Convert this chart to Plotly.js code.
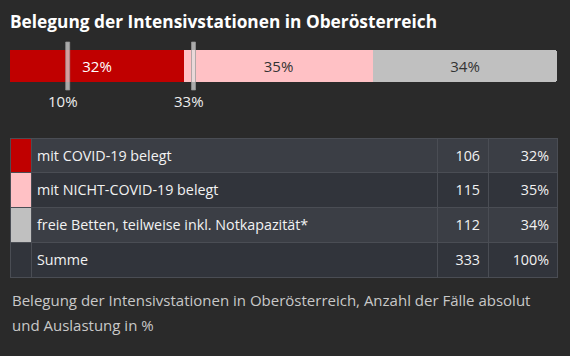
<!DOCTYPE html>
<html>
<head>
<meta charset="utf-8">
<script src="https://cdn.plot.ly/plotly-3.0.1.min.js"></script>
<style>
html,body{margin:0;padding:0;background:#2a2a2a;}
#chart{width:570px;height:356px;}
</style>
</head>
<body>
<div id="chart"></div>
<script>
// ---- data ----
var categories = ['mit COVID-19 belegt', 'mit NICHT-COVID-19 belegt', 'freie Betten, teilweise inkl. Notkapazität*'];
var counts = [106, 115, 112];
var colors = ['#c00000', '#ffc1c5', '#c0c0c0'];
var barTextColors = ['#ffffff', '#333333', '#333333'];
var markerValues = [10, 33];
var sumLabel = 'Summe';
var titleText = 'Belegung der Intensivstationen in Oberösterreich';
var footerLines = ['Belegung der Intensivstationen in Oberösterreich, Anzahl der Fälle absolut', 'und Auslastung in %'];

// ---- derived ----
var total = counts.reduce(function(a,b){return a+b;},0);
var pcts = counts.map(function(c){return c/total*100;});
var pctLabels = pcts.map(function(p){return Math.round(p)+'%';});

var FONT = '"Segoe UI", "Open Sans", "Noto Sans", sans-serif';
var W = 570, H = 356;
var X0 = 10, X1 = 557;
var HEADER_H = 20;
var TABLE_TOP = 138, TABLE_BOTTOM = 278, TEXT_DY = 4;

var traces = [];
categories.forEach(function(cat, i){
  traces.push({
    type:'bar', orientation:'h',
    x:[pcts[i]], y:[0], width:1,
    marker:{color:colors[i], line:{width:0}, cornerradius:3},
    text:[pctLabels[i]], textposition:'inside', insidetextanchor:'middle',
    textfont:{family:FONT, size:15, color:barTextColors[i]},
    hoverinfo:'skip', showlegend:false
  });
});

var rowA = '#3b3e45', rowB = '#31343b';
var rowFills = [rowA, rowB, rowA, rowB];
var nRows = categories.length + 1;
function blanks(){ var a=[]; for(var i=0;i<nRows;i++) a.push(''); return a; }

// table: cell fills and grid lines
traces.push({
  type:'table',
  domain:{x:[X0/W, X1/W], y:[1-TABLE_BOTTOM/H, 1-(TABLE_TOP-HEADER_H)/H]},
  columnwidth:[21, 406, 51, 69],
  header:{values:['','','',''], height:HEADER_H, fill:{color:'rgba(0,0,0,0)'}, line:{width:0, color:'rgba(0,0,0,0)'}},
  cells:{
    values:[blanks(), blanks(), blanks(), blanks()],
    height:34.75,
    font:{family:FONT, size:14, color:'#f2f2f2'},
    fill:{color:[colors.concat([rowB]), rowFills, rowFills, rowFills]},
    line:{color:'#4a4d54', width:1}
  }
});
// table: text, overlaid and vertically centred in the rows
traces.push({
  type:'table',
  domain:{x:[X0/W, X1/W], y:[1-(TABLE_BOTTOM+TEXT_DY)/H, 1-(TABLE_TOP-HEADER_H+TEXT_DY)/H]},
  columnwidth:[19, 408, 51, 69],
  header:{values:['','','',''], height:HEADER_H, fill:{color:'rgba(0,0,0,0)'}, line:{width:0, color:'rgba(0,0,0,0)'}},
  cells:{
    values:[
      blanks(),
      categories.concat([sumLabel]),
      counts.map(String).concat([String(total)]),
      pctLabels.concat(['100%'])
    ],
    align:['left','left','right','right'],
    height:34.75,
    font:{family:FONT, size:14.3, color:'#f2f2f2'},
    fill:{color:'rgba(0,0,0,0)'},
    line:{width:0, color:'rgba(0,0,0,0)'}
  }
});

var markerShapes = markerValues.map(function(v){
  return {type:'rect', xref:'x', yref:'y', xsizemode:'pixel', ysizemode:'pixel',
          xanchor:v, yanchor:0, x0:1, x1:5, y0:-24, y1:24,
          fillcolor:'rgba(225,225,225,0.7)', line:{color:'rgba(150,150,150,0.7)', width:1}, layer:'above'};
});
var markerAnns = markerValues.map(function(v){
  return {text:v+'%', xref:'x', yref:'paper', x:v, xshift:-2, y:1-101/H, xanchor:'center', yanchor:'middle', showarrow:false,
          font:{family:FONT, size:15, color:'#eeeeee'}};
});

var layout = {
  width:W, height:H,
  paper_bgcolor:'#2a2a2a', plot_bgcolor:'rgba(0,0,0,0)',
  margin:{l:0,r:0,t:0,b:0},
  barmode:'stack', bargap:0,
  showlegend:false,
  title:{text:'<b>'+titleText+'</b>', font:{family:FONT, size:17.3, color:'#ffffff'},
         x:X0/W, xanchor:'left', xref:'paper', y:1-22/H, yanchor:'middle', yref:'container'},
  xaxis:{domain:[X0/W, X1/W], range:[0,100], visible:false, fixedrange:true},
  yaxis:{domain:[1-91/H, 1-41/H], range:[-0.78125,0.78125], visible:false, fixedrange:true},
  shapes:markerShapes,
  annotations:markerAnns.concat([
    {text:footerLines[0], xref:'paper', yref:'paper', x:X0/W, y:1-300/H, xanchor:'left', yanchor:'middle', showarrow:false,
     font:{family:FONT, size:15, color:'#c8c8c8'}},
    {text:footerLines[1], xref:'paper', yref:'paper', x:X0/W, y:1-325/H, xanchor:'left', yanchor:'middle', showarrow:false,
     font:{family:FONT, size:15, color:'#c8c8c8'}}
  ])
};

Plotly.newPlot('chart', traces, layout, {displayModeBar:false, staticPlot:true});
</script>
</body>
</html>
